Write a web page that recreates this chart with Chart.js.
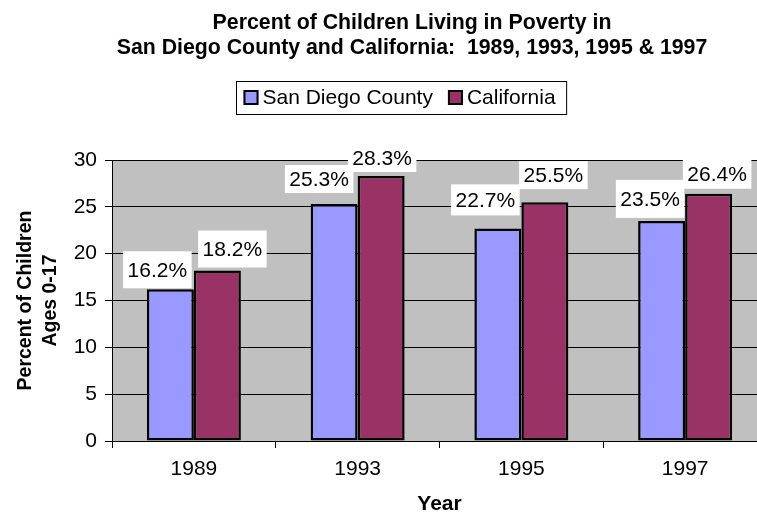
<!DOCTYPE html>
<html>
<head>
<meta charset="utf-8">
<script src="https://cdn.jsdelivr.net/npm/chart.js@4/dist/chart.umd.min.js"></script>
<style>
  html, body { margin: 0; padding: 0; background: #fff; overflow: hidden; width: 757px; height: 514px; }
  canvas { display: block; }
</style>
</head>
<body>
<canvas id="povertyChart" width="824" height="514"></canvas>
<script>
// --- DATA ---
const years = ['1989', '1993', '1995', '1997'];
const sanDiego = [16.2, 25.3, 22.7, 23.5];
const california = [18.2, 28.3, 25.5, 26.4];
const seriesNames = ['San Diego County', 'California'];
const titleLines = ['Percent of Children Living in Poverty in', 'San Diego County and California:  1989, 1993, 1995 & 1997'];
const yTitleLines = ['Percent of Children', 'Ages 0-17'];

const FONT = "'Liberation Sans', Arial, sans-serif";

// grey plot background
const plotBackground = {
    id: 'plotBackground',
    beforeDraw(chart) {
        const { ctx, chartArea: a } = chart;
        ctx.save();
        ctx.fillStyle = '#fff';
        ctx.fillRect(0, 0, chart.width, chart.height);
        ctx.fillStyle = '#c0c0c0';
        ctx.fillRect(a.left, a.top, a.right - a.left, a.bottom - a.top);
        ctx.restore();
    }
};

// white boxed value labels, nudged like the original (dx, gap above bar, box height)
const barLabels = {
    id: 'barLabels',
    afterDatasetsDraw(chart, args, opts) {
        const ctx = chart.ctx;
        ctx.save();
        ctx.font = opts.fontSize + 'px ' + FONT;
        ctx.textAlign = 'center';
        ctx.textBaseline = 'middle';
        chart.data.datasets.forEach((ds, di) => {
            chart.getDatasetMeta(di).data.forEach((bar, i) => {
                const [dx, gap, h] = opts.nudge[di][i];
                const txt = ds.data[i].toFixed(1) + '%';
                const w = ctx.measureText(txt).width + 9;
                const cx = bar.x + dx;
                const bottom = bar.y - gap;
                ctx.fillStyle = '#fff';
                ctx.fillRect(cx - w / 2, bottom - h, w, h);
                ctx.fillStyle = '#000';
                ctx.fillText(txt, cx, bottom - h / 2 + 1);
            });
        });
        ctx.restore();
    }
};

// boxed legend, Excel style
const boxLegend = {
    id: 'boxLegend',
    afterDraw(chart, args, opts) {
        const ctx = chart.ctx;
        ctx.save();
        ctx.font = opts.fontSize + 'px ' + FONT;
        const items = chart.data.datasets.map(ds => ({
            text: ds.label, color: ds.backgroundColor, w: ctx.measureText(ds.label).width
        }));
        const sq = 15, gap = 4, between = 15;
        let total = opts.padLeft + opts.padRight;
        items.forEach((it, i) => { total += sq + gap + it.w + (i ? between : 0); });
        const left = Math.round(opts.centerX - total / 2) + 0.5;
        const top = opts.top + 0.5;
        ctx.strokeStyle = '#000';
        ctx.lineWidth = 1;
        ctx.strokeRect(left, top, total, opts.height);
        const midY = opts.top + opts.height / 2;
        let x = left + opts.padLeft;
        ctx.textBaseline = 'middle';
        ctx.textAlign = 'left';
        items.forEach((it, i) => {
            if (i) x += between;
            ctx.fillStyle = it.color;
            ctx.fillRect(x, midY - sq / 2, sq, sq);
            ctx.lineWidth = 2;
            ctx.strokeRect(x + 1, midY - sq / 2 + 1, sq - 2, sq - 2);
            x += sq + gap;
            ctx.fillStyle = '#000';
            ctx.fillText(it.text, x, midY + 1);
            x += it.w;
        });
        ctx.restore();
    }
};

new Chart(document.getElementById('povertyChart'), {
    type: 'bar',
    data: {
        labels: years,
        datasets: [
            {
                label: seriesNames[0],
                data: sanDiego,
                backgroundColor: '#9999ff',
                borderColor: '#000',
                borderWidth: 2.5,
                borderSkipped: false
            },
            {
                label: seriesNames[1],
                data: california,
                backgroundColor: '#993366',
                borderColor: '#000',
                borderWidth: 2.5,
                borderSkipped: false
            }
        ]
    },
    options: {
        responsive: false,
        animation: false,
        events: [],
        layout: { padding: 0 },
        datasets: {
            bar: { barPercentage: 1, categoryPercentage: 0.574 }
        },
        scales: {
            x: {
                offset: true,
                grid: {
                    offset: true,
                    drawOnChartArea: false,
                    drawTicks: true,
                    tickLength: 7,
                    color: '#000'
                },
                border: { color: '#000', width: 1 },
                ticks: { color: '#000', font: { family: FONT, size: 21 }, padding: 9 },
                title: {
                    display: true,
                    text: 'Year',
                    color: '#000',
                    font: { family: FONT, size: 21, weight: 'bold', lineHeight: 1 },
                    padding: { top: 0, bottom: -1 }
                },
                afterFit(scale) { scale.height = 73; }
            },
            y: {
                min: 0,
                max: 30,
                grid: { color: '#000', tickLength: 7 },
                border: { color: '#000', width: 1 },
                ticks: { stepSize: 5, color: '#000', font: { family: FONT, size: 21 }, padding: 8 },
                title: {
                    display: true,
                    text: yTitleLines,
                    color: '#000',
                    font: { family: FONT, size: 19.5, weight: 'bold', lineHeight: 1.28 },
                    padding: { top: 13, bottom: 0 }
                },
                afterFit(scale) { scale.width = 112; }
            },
            spacer: {
                type: 'linear',
                position: 'right',
                display: true,
                grid: { display: false },
                border: { display: false },
                ticks: { display: false },
                afterFit(scale) { scale.width = 57; }
            }
        },
        plugins: {
            legend: { display: false },
            tooltip: { enabled: false },
            title: {
                display: true,
                text: titleLines,
                color: '#000',
                font: { family: FONT, size: 21.3, weight: 'bold', lineHeight: 1.2 },
                padding: { top: 10, bottom: 98.9 }
            },
            boxLegend: { centerX: 401.5, top: 81, height: 33, padLeft: 7, padRight: 11, fontSize: 21 },
            barLabels: {
                fontSize: 21,
                nudge: [
                    [[-13, 1, 37], [-15, 11, 28], [-12.5, 13, 31], [-11.5, 3, 38]],
                    [[15, 3, 37], [1, 4, 28], [8.5, 13, 28], [8.5, 5, 29]]
                ]
            }
        }
    },
    plugins: [plotBackground, barLabels, boxLegend]
});
</script>
</body>
</html>
